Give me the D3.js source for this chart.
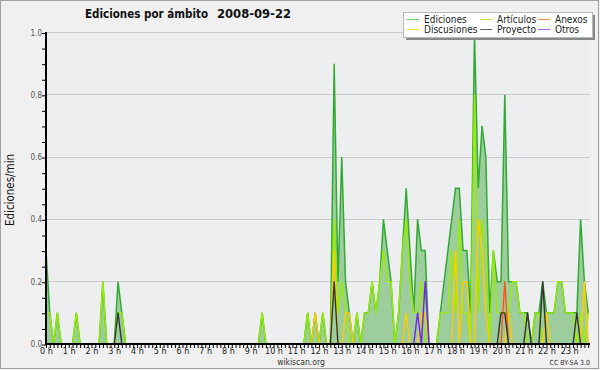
<!DOCTYPE html>
<html>
<head>
<meta charset="utf-8">
<script src="https://cdn.jsdelivr.net/npm/d3@7"></script>
<style>
  body { margin: 0; background: #f0f0f0; }
  text { font-family: "DejaVu Sans Condensed", "DejaVu Sans", sans-serif; font-stretch: condensed; }
</style>
</head>
<body>
<svg id="svg" width="600" height="370"></svg>
<script>
// one value every 10 minutes (edits/min), 144 bins per day
const hourLabels = d3.range(24).map(h => h + " h");
const yTicks = [0, 0.2, 0.4, 0.6, 0.8, 1.0];

const ediciones = [
  0.3,0.1,0,0.1,0,0,   0,0,0.1,0,0,0,          // 0-1 h
  0,0,0,0.2,0,0,       0,0.2,0.1,0,0,0,        // 2-3 h
  0,0,0,0,0,0,         0,0,0,0,0,0,            // 4-5 h
  0,0,0,0,0,0,         0,0,0,0,0,0,            // 6-7 h
  0,0,0,0,0,0,         0,0,0,0.1,0,0,          // 8-9 h
  0,0,0,0,0,0,         0,0,0,0.1,0,0.1,        // 10-11 h
  0,0.1,0,0,0.9,0.2,   0.6,0.2,0.1,0,0.1,0,    // 12-13 h
  0.1,0.1,0.2,0.1,0.2,0.4, 0.3,0.2,0,0.1,0.3,0.5,
  0.3,0.1,0.4,0.3,0.3,0,   0,0,0.1,0.2,0.3,0.4,
  0.5,0.5,0.3,0.3,0.1,1.0, 0.5,0.7,0.6,0.1,0.3,0.2,
  0.2,0.8,0.2,0.2,0.2,0.1, 0.1,0.1,0,0.1,0.1,0.2,
  0.1,0.1,0.1,0.2,0.2,0.1, 0.1,0.1,0.1,0.4,0.2,0.1
];
const articulos = [
  0.1,0.1,0,0.1,0,0,   0,0,0.1,0,0,0,
  0,0,0,0.2,0,0,       0,0.1,0.1,0,0,0,
  0,0,0,0,0,0,         0,0,0,0,0,0,
  0,0,0,0,0,0,         0,0,0,0,0,0,
  0,0,0,0,0,0,         0,0,0,0.1,0,0,
  0,0,0,0,0,0,         0,0,0,0.1,0,0,
  0,0.1,0,0,0.4,0.1,   0.2,0.1,0,0,0.1,0,
  0.1,0.1,0.2,0.1,0.2,0.3, 0.2,0.2,0,0.1,0.3,0.4,
  0.2,0.1,0.1,0.2,0,0,     0,0,0.1,0.1,0.1,0.3,
  0.1,0.4,0.1,0.1,0,0.8,   0.1,0.4,0.3,0,0.3,0.1,
  0.1,0.1,0.1,0.2,0.2,0.1, 0.1,0,0,0.1,0.1,0,
  0.1,0.1,0.1,0.2,0.2,0.1, 0.1,0.1,0,0.1,0,0.1
];
const discusiones = [
  0,0,0,0,0,0, 0,0,0,0,0,0,
  0,0,0,0,0,0, 0,0,0,0,0,0,
  0,0,0,0,0,0, 0,0,0,0,0,0,
  0,0,0,0,0,0, 0,0,0,0,0,0,
  0,0,0,0,0,0, 0,0,0,0,0,0,
  0,0,0,0,0,0, 0,0,0,0,0,0.1,
  0,0,0,0,0.3,0, 0,0.1,0.1,0,0,0,
  0,0,0,0,0,0, 0,0,0,0,0,0.1,
  0,0,0,0.1,0.1,0, 0,0,0,0,0,0,
  0.3,0,0.2,0.2,0,0, 0.4,0.3,0.1,0,0,0,
  0,0,0.1,0,0,0, 0,0,0,0,0,0,
  0.1,0,0,0,0,0, 0,0,0,0,0.2,0
];
const anexos = [
  0,0,0,0,0,0, 0,0,0,0,0,0,
  0,0,0,0,0,0, 0,0,0,0,0,0,
  0,0,0,0,0,0, 0,0,0,0,0,0,
  0,0,0,0,0,0, 0,0,0,0,0,0,
  0,0,0,0,0,0, 0,0,0,0,0,0,
  0,0,0,0,0,0, 0,0,0,0,0,0,
  0,0,0,0,0,0, 0,0,0,0,0,0,
  0,0,0,0,0,0, 0,0,0,0,0,0,
  0,0,0,0,0,0, 0,0,0,0,0,0,
  0,0,0,0,0,0, 0,0,0,0,0,0,
  0,0.2,0,0,0,0, 0,0,0,0,0,0,
  0,0,0,0,0,0, 0,0,0,0,0,0
];
const proyecto = [
  0,0,0,0,0,0, 0,0,0,0,0,0,
  0,0,0,0,0,0, 0,0.1,0,0,0,0,
  0,0,0,0,0,0, 0,0,0,0,0,0,
  0,0,0,0,0,0, 0,0,0,0,0,0,
  0,0,0,0,0,0, 0,0,0,0,0,0,
  0,0,0,0,0,0, 0,0,0,0,0,0,
  0,0,0,0,0.2,0, 0,0,0,0,0,0,
  0,0,0,0,0,0, 0,0,0,0,0,0,
  0,0,0,0,0,0, 0,0,0,0,0,0,
  0,0,0,0,0,0, 0,0,0,0,0,0,
  0.1,0.1,0,0,0,0, 0,0.1,0,0,0,0.2,
  0,0,0,0,0,0, 0,0,0.1,0,0,0
];
const otros = [
  0,0,0,0,0,0, 0,0,0,0,0,0,
  0,0,0,0,0,0, 0,0,0,0,0,0,
  0,0,0,0,0,0, 0,0,0,0,0,0,
  0,0,0,0,0,0, 0,0,0,0,0,0,
  0,0,0,0,0,0, 0,0,0,0,0,0,
  0,0,0,0,0,0, 0,0,0,0,0,0,
  0,0,0,0,0,0, 0,0,0,0,0,0,
  0,0,0,0,0,0, 0,0,0,0,0,0,
  0,0,0.1,0,0.2,0, 0,0,0,0,0,0,
  0,0,0,0,0,0, 0,0,0,0,0,0,
  0,0,0,0,0,0, 0,0,0,0,0,0,
  0,0,0,0,0,0, 0,0,0,0,0,0
];

const seriesNames = ["Ediciones", "Artículos", "Anexos", "Discusiones", "Proyecto", "Otros"];

document.addEventListener('DOMContentLoaded', () => {
  const svg = d3.select("#svg");
  const colors = {
    "Ediciones": "#33aa33", "Artículos": "#99ee00", "Anexos": "#ff5511",
    "Discusiones": "#ffcc00", "Proyecto": "#333333", "Otros": "#7722ee"
  };
  const legendColors = {
    "Ediciones": "#66cc66", "Artículos": "#bbee33", "Anexos": "#ff8855",
    "Discusiones": "#ffdd44", "Proyecto": "#666666", "Otros": "#aa66ff"
  };
  const data = {
    "Ediciones": ediciones, "Artículos": articulos, "Anexos": anexos,
    "Discusiones": discusiones, "Proyecto": proyecto, "Otros": otros
  };

  const x = d3.scaleLinear().domain([0, 144]).range([46, 592]);
  const y = d3.scaleLinear().domain([0, 1]).range([344, 32.5]);

  // background + frame
  svg.append('rect').attr('x', 0.5).attr('y', 0.5).attr('width', 598).attr('height', 368)
     .style('fill', '#f0f0f0').style('stroke', '#a0a0a0');
  svg.append('rect').attr('x', 46).attr('y', 32).attr('width', 544).attr('height', 312)
     .style('fill', '#edeef0');

  // grid
  svg.append('g').selectAll('line').data(yTicks.slice(1)).join('line')
     .attr('x1', 46).attr('x2', 590)
     .attr('y1', d => Math.floor(y(d)) + 0.5).attr('y2', d => Math.floor(y(d)) + 0.5)
     .style('stroke', '#cccccc').style('stroke-width', 1);

  // total area + line
  const area = d3.area().x((d, i) => x(i)).y0(y(0)).y1(d => y(d));
  const line = d3.line().x((d, i) => x(i)).y(d => y(d));
  svg.append('path').datum(ediciones).attr('d', area)
     .style('fill', '#9dcc9d');
  svg.append('path').datum(ediciones).attr('d', line)
     .style('fill', 'none').style('stroke', colors["Ediciones"]).style('stroke-width', 1.5);

  // per-namespace lines
  ["Artículos", "Discusiones", "Anexos", "Proyecto", "Otros"].forEach(name => {
    svg.append('path').datum(data[name]).attr('d', line)
       .style('fill', 'none').style('stroke', colors[name]).style('stroke-width', 1.4)
       .style('stroke-linejoin', 'round');
  });

  // axes
  const xAxis = d3.axisBottom(x).tickValues(d3.range(0, 144)).tickSize(4).tickSizeOuter(0)
                  .tickFormat(i => i % 6 === 0 ? hourLabels[i / 6] : "");
  const gx = svg.append('g').attr('transform', 'translate(0,344)').call(xAxis);
  gx.select('.domain').attr('d', 'M45,0H590').style('stroke', '#000').style('stroke-width', 2);
  gx.selectAll('.tick line').style('stroke', '#000');
  gx.selectAll('.tick text').attr('y', 4).style('font-size', '9px').style('fill', '#222')
    .style('font-family', '"DejaVu Sans Condensed","DejaVu Sans",sans-serif');

  const yAxis = d3.axisLeft(y).tickValues(d3.range(0, 21).map(v => v / 20)).tickSize(4).tickSizeOuter(0)
                  .tickFormat(v => Math.round(v * 20) % 4 === 0 ? d3.format(".1f")(v) : "");
  const gy = svg.append('g').attr('transform', 'translate(46,0)').call(yAxis);
  gy.select('.domain').attr('d', 'M0,32V345').style('stroke', '#000').style('stroke-width', 2);
  gy.selectAll('.tick line').attr('transform', 'translate(0,0.5)').style('stroke', '#000');
  gy.selectAll('.tick text').attr('x', -4).style('font-size', '8px').style('fill', '#555')
    .style('font-family', '"DejaVu Sans Condensed","DejaVu Sans",sans-serif');

  // titles
  svg.append('text').attr('x', 85).attr('y', 18).text('Ediciones por ámbito')
     .attr('textLength', 123).attr('lengthAdjust', 'spacingAndGlyphs')
     .style('font-weight', 'bold').style('font-size', '12.5px').style('fill', '#111');
  svg.append('text').attr('x', 217).attr('y', 18).text('2008-09-22')
     .attr('textLength', 74).attr('lengthAdjust', 'spacingAndGlyphs')
     .style('font-weight', 'bold').style('font-size', '12.5px').style('fill', '#111');
  svg.append('text').attr('transform', 'translate(14,190) rotate(-90)').attr('text-anchor', 'middle')
     .text('Ediciones/min').style('font-size', '11.5px').style('fill', '#111');
  svg.append('text').attr('x', 301).attr('y', 365).attr('text-anchor', 'middle')
     .text('wikiscan.org').style('font-size', '8.5px').style('fill', '#333');
  svg.append('text').attr('x', 590).attr('y', 365).attr('text-anchor', 'end')
     .text('CC BY-SA 3.0').style('font-size', '7px').style('fill', '#333');

  // legend
  svg.append('rect').attr('x', 406).attr('y', 15).attr('width', 189).attr('height', 25)
     .style('fill', '#888');
  svg.append('rect').attr('x', 403.5).attr('y', 12.5).attr('width', 189).attr('height', 25)
     .style('fill', '#fff').style('stroke', '#bbb');
  const legPos = {
    "Ediciones": [407, 19], "Artículos": [480, 19], "Anexos": [538, 19],
    "Discusiones": [407, 29], "Proyecto": [480, 29], "Otros": [538, 29]
  };
  seriesNames.forEach(name => {
    const [lx, ly] = legPos[name];
    svg.append('line').attr('x1', lx).attr('x2', lx + 12).attr('y1', ly + 0.5).attr('y2', ly + 0.5)
       .style('stroke', legendColors[name]).style('stroke-width', 1);
    svg.append('text').attr('x', lx + 17).attr('y', ly + 4).text(name)
       .style('font-size', '10px').style('fill', '#222');
  });
});
</script>
</body>
</html>
